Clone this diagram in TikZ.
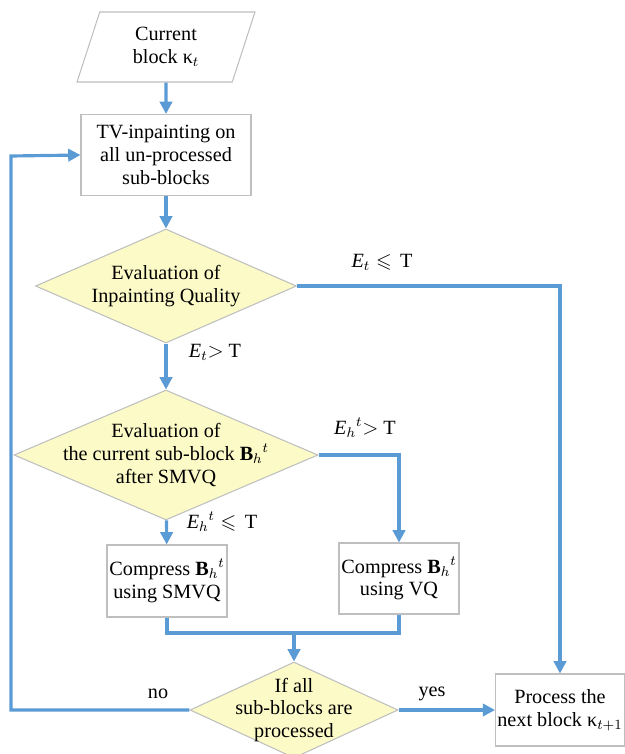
\documentclass[tikz,border=0pt]{standalone}
\usepackage{amssymb}
\usepackage{fontspec}
\setmainfont{Liberation Serif}
\usetikzlibrary{shapes.geometric,arrows.meta}
\definecolor{flowblue}{RGB}{91,155,213}
\definecolor{edgegray}{RGB}{191,191,191}
\definecolor{decyellow}{RGB}{252,251,200}
\begin{document}
\begin{tikzpicture}
    [x=0.02cm,y=-0.02cm,
     every node/.style={font=\fontsize{11.5}{13}\selectfont, align=center},
     box/.style={rectangle, draw=edgegray, line width=0.6pt, fill=white, inner xsep=1pt},
     dec/.style={diamond, draw=edgegray, line width=0.6pt, fill=decyellow, inner xsep=0pt},
     io/.style={trapezium, trapezium left angle=60, trapezium right angle=120,
                trapezium stretches body, draw=edgegray, line width=0.6pt, inner sep=0pt},
     flow/.style={draw=flowblue, line width=1.8pt},
     arr/.style={flow, -{Triangle[width=7pt,length=7pt]}}]
    \useasboundingbox (0,0) rectangle (625,754);
    \node[io, minimum width=3.56cm, minimum height=1.4cm] (cur) at (166,47) {Current\\block κ$_t$};
    \node[box, minimum width=3.4cm, minimum height=1.62cm] (tv) at (166,155) {TV-inpainting on\\all un-processed\\sub-blocks};
    \node[dec, shape aspect=2.29, inner ysep=0pt, minimum width=5.22cm, minimum height=2.28cm] (qual) at (166,286) {Evaluation of\\Inpainting Quality};
    \node[dec, shape aspect=2.34, inner ysep=-0.25cm, minimum width=6.08cm, minimum height=2.6cm] (sub) at (166,455) {Evaluation of\\the current sub-block \textbf{B}$_h{}^t$\\after SMVQ};
    \node[box, minimum width=2.4cm, minimum height=1.44cm] (smvq) at (167,581) {Compress \textbf{B}$_h{}^t$\\using SMVQ};
    \node[box, minimum width=2.4cm, minimum height=1.42cm] (vq) at (399,578.5) {Compress \textbf{B}$_h{}^t$\\using VQ};
    \node[dec, shape aspect=2.17, inner ysep=-0.28cm, minimum width=4.16cm, minimum height=1.92cm] (all) at (294,710) {If all\\sub-blocks are\\processed};
    \node[box, minimum width=2.56cm, minimum height=1.44cm] (next) at (560,710) {Process the\\next block κ$_{t+1}$};
    \coordinate (mrg) at (294,633);
    \coordinate (back) at (11,156);
    \foreach \from/\to in {cur/tv, tv/qual, qual/sub, sub/smvq, mrg/all, all/next}
    \draw[arr] (\from) -- (\to);
    \draw[arr] (qual.east) -| (next.north);
    \draw[arr] (sub.east) -| (vq.north);
    \draw[flow] (smvq.south) |- (mrg) -| (vq.south);
    \draw[arr] (all.west) -| (back) -- (tv.west);
    \node (l1) at (382,262) {\textit{E}$_t \leqslant$\, T};
    \node (l2) at (215,352) {\textit{E}$_t$$>$ T};
    \node (l3) at (365,428) {\textit{E}$_h{}^t$$>$ T};
    \node (l4) at (222,522) {\textit{E}$_h{}^t \leqslant$\, T};
    \node (l5) at (158,694) {no};
    \node (l6) at (432,694) {yes};
\end{tikzpicture}
\end{document}
